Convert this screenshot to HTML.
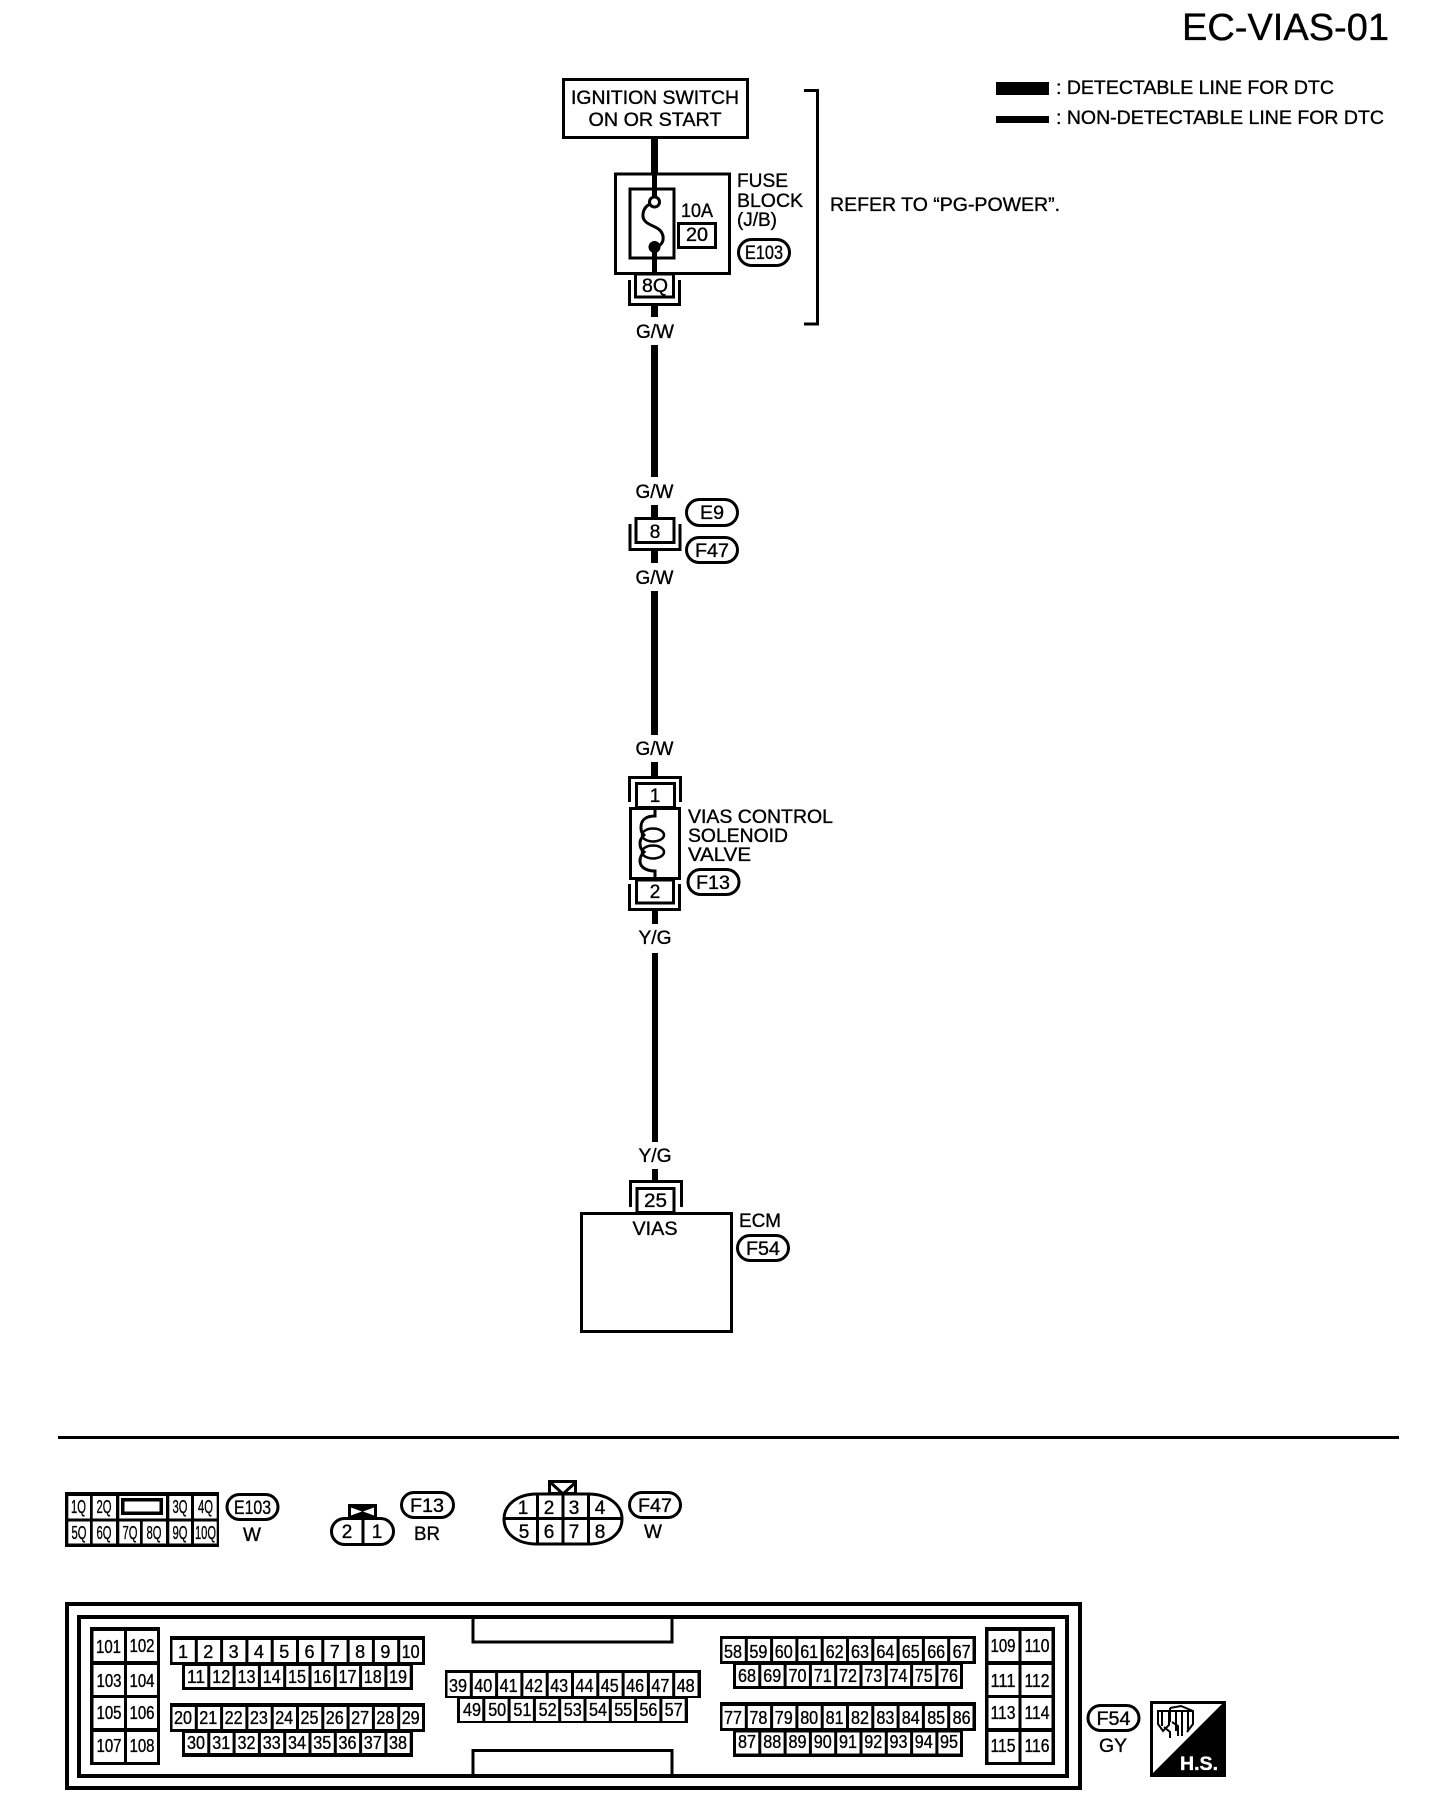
<!DOCTYPE html>
<html><head><meta charset="utf-8"><title>EC-VIAS-01</title>
<style>
html,body{margin:0;padding:0;background:#fff}
svg{display:block}
text{font-family:"Liberation Sans",Arial,sans-serif;fill:#000;font-size:19px;stroke:#000;stroke-width:.35px}
.m{text-anchor:middle}
.c text,text.c{font-size:18px;text-anchor:middle}
.n{fill:none;stroke:#000;stroke-width:3}
.p{fill:#fff;stroke:#000;stroke-width:3}
</style></head><body>
<svg width="1440" height="1804" viewBox="0 0 1440 1804" xmlns="http://www.w3.org/2000/svg">
<rect width="1440" height="1804" fill="#fff"/>
<text x="1182" y="40" style="font-size:38px" textLength="207" lengthAdjust="spacingAndGlyphs">EC-VIAS-01</text>
<rect x="996" y="82" width="53" height="13"/><rect x="996" y="116" width="53" height="7"/>
<text x="1056" y="94" textLength="278" lengthAdjust="spacingAndGlyphs">: DETECTABLE LINE FOR DTC</text>
<text x="1056" y="124" textLength="328" lengthAdjust="spacingAndGlyphs">: NON-DETECTABLE LINE FOR DTC</text>

<!-- wires -->
<rect x="651" y="138" width="7" height="35"/>
<rect x="652" y="173" width="5" height="24"/>
<rect x="652" y="253" width="5" height="21"/>
<rect x="651" y="306" width="7" height="11"/>
<rect x="651" y="345" width="7" height="132"/>
<rect x="651" y="505" width="7" height="15"/>
<rect x="651" y="551" width="7" height="12"/>
<rect x="651" y="591" width="7" height="144"/>
<rect x="651" y="762" width="7" height="15"/>
<rect x="652" y="910" width="6" height="14"/>
<rect x="652" y="953" width="6" height="189"/>
<rect x="652" y="1169" width="6" height="12"/>

<!-- ignition -->
<rect class="p" x="563.5" y="79.5" width="184" height="58"/>
<text class="m" x="655" y="104" textLength="168" lengthAdjust="spacingAndGlyphs">IGNITION SWITCH</text>
<text class="m" x="655" y="126" textLength="133" lengthAdjust="spacingAndGlyphs">ON OR START</text>

<!-- fuse block -->
<rect class="n" x="615.5" y="174" width="114" height="99.5"/>
<rect class="n" x="630" y="189" width="44" height="69"/>
<rect x="652" y="173" width="5" height="24"/>
<rect x="652" y="250" width="5" height="24"/>
<path class="n" d="M650 204C642 208 641 218 646 222C652 227 661 227 663 236C664 243 660 245 658 247"/>
<circle cx="654.5" cy="202" r="5" fill="#fff" stroke="#000" stroke-width="3"/>
<circle cx="654.5" cy="247" r="6"/>
<text class="m" x="697" y="217" textLength="32" lengthAdjust="spacingAndGlyphs">10A</text>
<rect class="n" x="678.5" y="223.5" width="37" height="24"/>
<text class="m" x="697" y="241" textLength="22" lengthAdjust="spacingAndGlyphs">20</text>
<text x="737" y="187" textLength="51" lengthAdjust="spacingAndGlyphs">FUSE</text>
<text x="737" y="207" textLength="66" lengthAdjust="spacingAndGlyphs">BLOCK</text>
<text x="737" y="226" textLength="40" lengthAdjust="spacingAndGlyphs">(J/B)</text>
<rect class="p" x="738.5" y="239.5" width="51" height="26" rx="13"/>
<text class="m" x="764" y="259" textLength="38" lengthAdjust="spacingAndGlyphs">E103</text>
<path class="n" d="M804 90.5H817.5V324H804"/>
<text x="830" y="211" textLength="230" lengthAdjust="spacingAndGlyphs">REFER TO “PG-POWER”.</text>
<rect class="n" x="635.5" y="274" width="38" height="23"/>
<text class="m" x="655" y="292" textLength="26" lengthAdjust="spacingAndGlyphs">8Q</text>
<path class="n" d="M629.5 280V304.5H679.5V280"/>
<text class="m" x="655" y="338" textLength="38" lengthAdjust="spacingAndGlyphs">G/W</text>

<!-- E9 F47 -->
<text class="m" x="654.5" y="498" textLength="38" lengthAdjust="spacingAndGlyphs">G/W</text>
<rect class="p" x="636" y="518.5" width="38" height="24"/>
<text class="m" x="655" y="538">8</text>
<path class="n" d="M630 524V549.5H680V524"/>
<rect class="p" x="686.5" y="499.5" width="51" height="26" rx="13"/>
<text class="m" x="712" y="519" textLength="24" lengthAdjust="spacingAndGlyphs">E9</text>
<rect class="p" x="686.5" y="537.5" width="51" height="25" rx="12.5"/>
<text class="m" x="712" y="557" textLength="34" lengthAdjust="spacingAndGlyphs">F47</text>
<text class="m" x="654.5" y="584" textLength="38" lengthAdjust="spacingAndGlyphs">G/W</text>
<text class="m" x="654.5" y="755" textLength="38" lengthAdjust="spacingAndGlyphs">G/W</text>

<!-- solenoid -->
<path class="n" d="M629.5 802V777.5H680.5V802"/>
<rect class="p" x="636.5" y="783.5" width="38" height="24"/>
<text class="m" x="655" y="802">1</text>
<rect x="630.5" y="808.5" width="49" height="70" fill="#fff" stroke="#000" stroke-width="3"/>
<path d="M655 810V816C646 816 641 820 641 827C641 832 642 833 644 835C641 838 640 840 640 843C640 847 641 850 644 852C641 855 640 858 640 861C640 867 646 871 655 871V878" fill="none" stroke="#000" stroke-width="3"/>
<ellipse cx="653" cy="835" rx="11" ry="6.5" fill="none" stroke="#000" stroke-width="2.5"/>
<ellipse cx="653" cy="852" rx="11" ry="6.5" fill="none" stroke="#000" stroke-width="2.5"/>
<rect class="p" x="636.5" y="880" width="37" height="23"/>
<text class="m" x="655" y="898">2</text>
<path class="n" d="M629.5 884V909.5H679.5V884"/>
<text x="688" y="823" textLength="145" lengthAdjust="spacingAndGlyphs">VIAS CONTROL</text>
<text x="688" y="842" textLength="100" lengthAdjust="spacingAndGlyphs">SOLENOID</text>
<text x="688" y="861" textLength="63" lengthAdjust="spacingAndGlyphs">VALVE</text>
<rect class="p" x="688" y="869.5" width="51" height="25" rx="12.5"/>
<text class="m" x="713" y="889" textLength="34" lengthAdjust="spacingAndGlyphs">F13</text>
<text class="m" x="655" y="944" textLength="33" lengthAdjust="spacingAndGlyphs">Y/G</text>
<text class="m" x="655" y="1162" textLength="33" lengthAdjust="spacingAndGlyphs">Y/G</text>

<!-- ECM -->
<path class="n" d="M630.5 1207V1181.5H681.5V1207"/>
<rect class="p" x="637" y="1188.5" width="37" height="24"/>
<text class="m" x="655.5" y="1207" textLength="23" lengthAdjust="spacingAndGlyphs">25</text>
<rect class="n" x="581.5" y="1213.5" width="150" height="118"/>
<text class="m" x="655" y="1235" textLength="45" lengthAdjust="spacingAndGlyphs">VIAS</text>
<text x="739" y="1227" textLength="42" lengthAdjust="spacingAndGlyphs">ECM</text>
<rect class="p" x="737.5" y="1235.5" width="51" height="25" rx="12.5"/>
<text class="m" x="763" y="1255" textLength="34" lengthAdjust="spacingAndGlyphs">F54</text>

<rect x="58" y="1436" width="1341" height="3"/>

<!-- E103 connector -->
<rect x="65" y="1492" width="154" height="55"/>
<g fill="#fff">
<rect x="68.3" y="1496" width="21.7" height="22.5"/><rect x="92.7" y="1496" width="23.3" height="22.5"/><rect x="119.3" y="1496" width="46.7" height="22.5"/><rect x="169.3" y="1496" width="21.7" height="22.5"/><rect x="194" y="1496" width="22.7" height="22.5"/>
<rect x="68.3" y="1521.5" width="21.7" height="22"/><rect x="92.7" y="1521.5" width="23.3" height="22"/><rect x="119.3" y="1521.5" width="20.7" height="22"/><rect x="142.7" y="1521.5" width="23.3" height="22"/><rect x="169.3" y="1521.5" width="21.7" height="22"/><rect x="194" y="1521.5" width="22.7" height="22"/>
</g>
<rect x="121" y="1498" width="42" height="17"/><rect x="124.5" y="1501.5" width="35" height="10" fill="#fff"/>
<g class="c">
<text x="78.5" y="1513" textLength="15" lengthAdjust="spacingAndGlyphs">1Q</text><text x="104" y="1513" textLength="15" lengthAdjust="spacingAndGlyphs">2Q</text><text x="180" y="1513" textLength="15" lengthAdjust="spacingAndGlyphs">3Q</text><text x="205.5" y="1513" textLength="15" lengthAdjust="spacingAndGlyphs">4Q</text>
<text x="79" y="1539" textLength="15" lengthAdjust="spacingAndGlyphs">5Q</text><text x="104" y="1539" textLength="15" lengthAdjust="spacingAndGlyphs">6Q</text><text x="130" y="1539" textLength="15" lengthAdjust="spacingAndGlyphs">7Q</text><text x="154" y="1539" textLength="15" lengthAdjust="spacingAndGlyphs">8Q</text><text x="180" y="1539" textLength="15" lengthAdjust="spacingAndGlyphs">9Q</text><text x="205.5" y="1539" textLength="21" lengthAdjust="spacingAndGlyphs">10Q</text>
</g>
<rect class="p" x="227" y="1494.5" width="51" height="25" rx="12.5"/>
<text class="m" x="252.5" y="1514" textLength="37" lengthAdjust="spacingAndGlyphs">E103</text>
<text class="m" x="252" y="1541">W</text>

<!-- F13 connector -->
<rect x="348" y="1504" width="29" height="14"/>
<path fill="#fff" d="M351 1507.5L362 1511.5L351 1515.5ZM374 1507.5L363 1511.5L374 1515.5Z"/>
<rect class="p" x="331.5" y="1518.5" width="62" height="26" rx="13"/>
<rect x="361.5" y="1518" width="3" height="26"/>
<text class="m" x="347" y="1538">2</text><text class="m" x="377" y="1538">1</text>
<rect class="p" x="401.5" y="1492.5" width="52" height="25" rx="12.5"/>
<text class="m" x="427" y="1512" textLength="34" lengthAdjust="spacingAndGlyphs">F13</text>
<text class="m" x="427" y="1540" textLength="26" lengthAdjust="spacingAndGlyphs">BR</text>

<!-- F47 connector -->
<rect class="p" x="549.5" y="1481.5" width="26" height="12"/>
<path class="n" d="M550 1482L563 1494L576 1482"/>
<path class="p" d="M537 1494H588C610 1494 622 1506 622 1519C622 1533 610 1544 588 1544H537C516 1544 504 1533 504 1519C504 1506 516 1494 537 1494Z"/>
<path class="n" d="M504 1518.5H622M537.5 1494V1544M563 1494V1544M588.5 1494V1544"/>
<text class="m" x="523" y="1514">1</text><text class="m" x="549" y="1514">2</text><text class="m" x="574" y="1514">3</text><text class="m" x="600" y="1514">4</text>
<text class="m" x="524" y="1538">5</text><text class="m" x="549" y="1538">6</text><text class="m" x="574" y="1538">7</text><text class="m" x="600" y="1538">8</text>
<rect class="p" x="629.5" y="1492.5" width="51" height="25" rx="12.5"/>
<text class="m" x="655" y="1512" textLength="34" lengthAdjust="spacingAndGlyphs">F47</text>
<text class="m" x="653" y="1538">W</text>

<!-- ECM connector -->
<rect x="67" y="1604" width="1013" height="184" fill="none" stroke="#000" stroke-width="4"/>
<rect x="79" y="1617" width="988" height="159" fill="none" stroke="#000" stroke-width="4"/>
<path class="n" d="M473 1618V1642H672V1618"/>
<path class="n" d="M473 1775V1750.5H672V1775"/>

<!-- side blocks -->
<rect x="90" y="1627" width="70" height="138"/>
<rect x="985" y="1627" width="70" height="138"/>
<g fill="#fff">
<rect x="93.5" y="1631" width="30.5" height="30"/><rect x="127" y="1631" width="30" height="30"/>
<rect x="93.5" y="1665" width="30.5" height="30"/><rect x="127" y="1665" width="30" height="30"/>
<rect x="93.5" y="1698" width="30.5" height="30"/><rect x="127" y="1698" width="30" height="30"/>
<rect x="93.5" y="1732" width="30.5" height="30"/><rect x="127" y="1732" width="30" height="30"/>
<rect x="988.5" y="1631" width="30" height="30"/><rect x="1021.5" y="1631" width="30" height="30"/>
<rect x="988.5" y="1665" width="30" height="30"/><rect x="1021.5" y="1665" width="30" height="30"/>
<rect x="988.5" y="1698" width="30" height="30"/><rect x="1021.5" y="1698" width="30" height="30"/>
<rect x="988.5" y="1732" width="30" height="30"/><rect x="1021.5" y="1732" width="30" height="30"/>
</g>
<g class="c">
<text x="108.5" y="1653" textLength="25" lengthAdjust="spacingAndGlyphs">101</text><text x="142" y="1652" textLength="25" lengthAdjust="spacingAndGlyphs">102</text>
<text x="109" y="1687" textLength="25" lengthAdjust="spacingAndGlyphs">103</text><text x="142" y="1687" textLength="25" lengthAdjust="spacingAndGlyphs">104</text>
<text x="109" y="1719" textLength="25" lengthAdjust="spacingAndGlyphs">105</text><text x="142" y="1719" textLength="25" lengthAdjust="spacingAndGlyphs">106</text>
<text x="109" y="1752" textLength="25" lengthAdjust="spacingAndGlyphs">107</text><text x="142" y="1752" textLength="25" lengthAdjust="spacingAndGlyphs">108</text>
<text x="1003" y="1652" textLength="25" lengthAdjust="spacingAndGlyphs">109</text><text x="1037" y="1652" textLength="25" lengthAdjust="spacingAndGlyphs">110</text>
<text x="1003" y="1687" textLength="25" lengthAdjust="spacingAndGlyphs">111</text><text x="1037" y="1687" textLength="25" lengthAdjust="spacingAndGlyphs">112</text>
<text x="1003" y="1719" textLength="25" lengthAdjust="spacingAndGlyphs">113</text><text x="1037" y="1719" textLength="25" lengthAdjust="spacingAndGlyphs">114</text>
<text x="1003" y="1752" textLength="25" lengthAdjust="spacingAndGlyphs">115</text><text x="1037" y="1752" textLength="25" lengthAdjust="spacingAndGlyphs">116</text>
</g>

<!-- pin block backgrounds -->
<rect x="170" y="1636" width="255" height="29"/><rect x="182" y="1664" width="231" height="26"/>
<rect x="170" y="1703" width="255" height="29"/><rect x="182" y="1731" width="231" height="26"/>
<rect x="445" y="1670" width="256" height="28"/><rect x="457" y="1697" width="231" height="26"/>
<rect x="720" y="1636" width="256" height="28"/><rect x="733" y="1663" width="230" height="26"/>
<rect x="720" y="1702" width="256" height="29"/><rect x="733" y="1730" width="230" height="27"/>
<g fill="none" stroke="#fff">
<path stroke-width="22" stroke-dasharray="22.3 3" d="M172.5 1651H422"/>
<path stroke-width="21" stroke-dasharray="22.3 3" d="M185 1676.5H410"/>
<path stroke-width="22" stroke-dasharray="22.3 3" d="M172.5 1718H422"/>
<path stroke-width="20" stroke-dasharray="22.3 3" d="M185 1743H410"/>
<path stroke-width="23" stroke-dasharray="22.3 3" d="M447.5 1684.5H698"/>
<path stroke-width="22" stroke-dasharray="22.3 3" d="M460 1710H685"/>
<path stroke-width="22" stroke-dasharray="22.3 3" d="M722.5 1650H973"/>
<path stroke-width="21" stroke-dasharray="22.3 3" d="M736 1675.5H960"/>
<path stroke-width="22" stroke-dasharray="22.3 3" d="M722.5 1717H973"/>
<path stroke-width="21" stroke-dasharray="22.3 3" d="M736 1743H960"/>
</g>
<g class="c">
<text x="183" y="1658">1</text><text x="208.3" y="1658">2</text><text x="233.6" y="1658">3</text><text x="258.9" y="1658">4</text><text x="284.2" y="1658">5</text><text x="309.5" y="1658">6</text><text x="334.8" y="1658">7</text><text x="360.1" y="1658">8</text><text x="385.4" y="1658">9</text><text x="410.7" y="1658" textLength="18" lengthAdjust="spacingAndGlyphs">10</text>
<text x="196" y="1683" textLength="18" lengthAdjust="spacingAndGlyphs">11</text><text x="221.3" y="1683" textLength="18" lengthAdjust="spacingAndGlyphs">12</text><text x="246.5" y="1683" textLength="18" lengthAdjust="spacingAndGlyphs">13</text><text x="271.8" y="1683" textLength="18" lengthAdjust="spacingAndGlyphs">14</text><text x="297" y="1683" textLength="18" lengthAdjust="spacingAndGlyphs">15</text><text x="322.3" y="1683" textLength="18" lengthAdjust="spacingAndGlyphs">16</text><text x="347.5" y="1683" textLength="18" lengthAdjust="spacingAndGlyphs">17</text><text x="372.8" y="1683" textLength="18" lengthAdjust="spacingAndGlyphs">18</text><text x="398" y="1683" textLength="18" lengthAdjust="spacingAndGlyphs">19</text>
<text x="183" y="1724" textLength="18" lengthAdjust="spacingAndGlyphs">20</text><text x="208.3" y="1724" textLength="18" lengthAdjust="spacingAndGlyphs">21</text><text x="233.6" y="1724" textLength="18" lengthAdjust="spacingAndGlyphs">22</text><text x="258.9" y="1724" textLength="18" lengthAdjust="spacingAndGlyphs">23</text><text x="284.2" y="1724" textLength="18" lengthAdjust="spacingAndGlyphs">24</text><text x="309.5" y="1724" textLength="18" lengthAdjust="spacingAndGlyphs">25</text><text x="334.8" y="1724" textLength="18" lengthAdjust="spacingAndGlyphs">26</text><text x="360.1" y="1724" textLength="18" lengthAdjust="spacingAndGlyphs">27</text><text x="385.4" y="1724" textLength="18" lengthAdjust="spacingAndGlyphs">28</text><text x="410.7" y="1724" textLength="18" lengthAdjust="spacingAndGlyphs">29</text>
<text x="196" y="1749" textLength="18" lengthAdjust="spacingAndGlyphs">30</text><text x="221.3" y="1749" textLength="18" lengthAdjust="spacingAndGlyphs">31</text><text x="246.5" y="1749" textLength="18" lengthAdjust="spacingAndGlyphs">32</text><text x="271.8" y="1749" textLength="18" lengthAdjust="spacingAndGlyphs">33</text><text x="297" y="1749" textLength="18" lengthAdjust="spacingAndGlyphs">34</text><text x="322.3" y="1749" textLength="18" lengthAdjust="spacingAndGlyphs">35</text><text x="347.5" y="1749" textLength="18" lengthAdjust="spacingAndGlyphs">36</text><text x="372.8" y="1749" textLength="18" lengthAdjust="spacingAndGlyphs">37</text><text x="398" y="1749" textLength="18" lengthAdjust="spacingAndGlyphs">38</text>
<text x="458" y="1692" textLength="18" lengthAdjust="spacingAndGlyphs">39</text><text x="483.3" y="1692" textLength="18" lengthAdjust="spacingAndGlyphs">40</text><text x="508.6" y="1692" textLength="18" lengthAdjust="spacingAndGlyphs">41</text><text x="533.9" y="1692" textLength="18" lengthAdjust="spacingAndGlyphs">42</text><text x="559.2" y="1692" textLength="18" lengthAdjust="spacingAndGlyphs">43</text><text x="584.5" y="1692" textLength="18" lengthAdjust="spacingAndGlyphs">44</text><text x="609.8" y="1692" textLength="18" lengthAdjust="spacingAndGlyphs">45</text><text x="635.1" y="1692" textLength="18" lengthAdjust="spacingAndGlyphs">46</text><text x="660.4" y="1692" textLength="18" lengthAdjust="spacingAndGlyphs">47</text><text x="685.7" y="1692" textLength="18" lengthAdjust="spacingAndGlyphs">48</text>
<text x="472" y="1716" textLength="18" lengthAdjust="spacingAndGlyphs">49</text><text x="497.2" y="1716" textLength="18" lengthAdjust="spacingAndGlyphs">50</text><text x="522.4" y="1716" textLength="18" lengthAdjust="spacingAndGlyphs">51</text><text x="547.6" y="1716" textLength="18" lengthAdjust="spacingAndGlyphs">52</text><text x="572.8" y="1716" textLength="18" lengthAdjust="spacingAndGlyphs">53</text><text x="598" y="1716" textLength="18" lengthAdjust="spacingAndGlyphs">54</text><text x="623.2" y="1716" textLength="18" lengthAdjust="spacingAndGlyphs">55</text><text x="648.4" y="1716" textLength="18" lengthAdjust="spacingAndGlyphs">56</text><text x="673.6" y="1716" textLength="18" lengthAdjust="spacingAndGlyphs">57</text>
<text x="733" y="1658" textLength="18" lengthAdjust="spacingAndGlyphs">58</text><text x="758.4" y="1658" textLength="18" lengthAdjust="spacingAndGlyphs">59</text><text x="783.8" y="1658" textLength="18" lengthAdjust="spacingAndGlyphs">60</text><text x="809.2" y="1658" textLength="18" lengthAdjust="spacingAndGlyphs">61</text><text x="834.6" y="1658" textLength="18" lengthAdjust="spacingAndGlyphs">62</text><text x="860" y="1658" textLength="18" lengthAdjust="spacingAndGlyphs">63</text><text x="885.4" y="1658" textLength="18" lengthAdjust="spacingAndGlyphs">64</text><text x="910.8" y="1658" textLength="18" lengthAdjust="spacingAndGlyphs">65</text><text x="936.2" y="1658" textLength="18" lengthAdjust="spacingAndGlyphs">66</text><text x="961.6" y="1658" textLength="18" lengthAdjust="spacingAndGlyphs">67</text>
<text x="747" y="1682" textLength="18" lengthAdjust="spacingAndGlyphs">68</text><text x="772.3" y="1682" textLength="18" lengthAdjust="spacingAndGlyphs">69</text><text x="797.5" y="1682" textLength="18" lengthAdjust="spacingAndGlyphs">70</text><text x="822.8" y="1682" textLength="18" lengthAdjust="spacingAndGlyphs">71</text><text x="848" y="1682" textLength="18" lengthAdjust="spacingAndGlyphs">72</text><text x="873.3" y="1682" textLength="18" lengthAdjust="spacingAndGlyphs">73</text><text x="898.5" y="1682" textLength="18" lengthAdjust="spacingAndGlyphs">74</text><text x="923.8" y="1682" textLength="18" lengthAdjust="spacingAndGlyphs">75</text><text x="949" y="1682" textLength="18" lengthAdjust="spacingAndGlyphs">76</text>
<text x="733" y="1724" textLength="18" lengthAdjust="spacingAndGlyphs">77</text><text x="758.4" y="1724" textLength="18" lengthAdjust="spacingAndGlyphs">78</text><text x="783.8" y="1724" textLength="18" lengthAdjust="spacingAndGlyphs">79</text><text x="809.2" y="1724" textLength="18" lengthAdjust="spacingAndGlyphs">80</text><text x="834.6" y="1724" textLength="18" lengthAdjust="spacingAndGlyphs">81</text><text x="860" y="1724" textLength="18" lengthAdjust="spacingAndGlyphs">82</text><text x="885.4" y="1724" textLength="18" lengthAdjust="spacingAndGlyphs">83</text><text x="910.8" y="1724" textLength="18" lengthAdjust="spacingAndGlyphs">84</text><text x="936.2" y="1724" textLength="18" lengthAdjust="spacingAndGlyphs">85</text><text x="961.6" y="1724" textLength="18" lengthAdjust="spacingAndGlyphs">86</text>
<text x="747" y="1748" textLength="18" lengthAdjust="spacingAndGlyphs">87</text><text x="772.3" y="1748" textLength="18" lengthAdjust="spacingAndGlyphs">88</text><text x="797.5" y="1748" textLength="18" lengthAdjust="spacingAndGlyphs">89</text><text x="822.8" y="1748" textLength="18" lengthAdjust="spacingAndGlyphs">90</text><text x="848" y="1748" textLength="18" lengthAdjust="spacingAndGlyphs">91</text><text x="873.3" y="1748" textLength="18" lengthAdjust="spacingAndGlyphs">92</text><text x="898.5" y="1748" textLength="18" lengthAdjust="spacingAndGlyphs">93</text><text x="923.8" y="1748" textLength="18" lengthAdjust="spacingAndGlyphs">94</text><text x="949" y="1748" textLength="18" lengthAdjust="spacingAndGlyphs">95</text>
</g>

<!-- F54 label & H.S. -->
<rect class="p" x="1088" y="1705.5" width="51" height="25" rx="12.5"/>
<text class="m" x="1113.5" y="1725" textLength="34" lengthAdjust="spacingAndGlyphs">F54</text>
<text class="m" x="1113" y="1752" textLength="28" lengthAdjust="spacingAndGlyphs">GY</text>
<rect x="1150" y="1701" width="76" height="76"/>
<path fill="#fff" d="M1153 1704H1222L1153 1773Z"/>
<g fill="none" stroke="#000" stroke-width="2">
<path d="M1158 1711H1169V1725L1163 1731L1158 1724ZM1162 1711V1726"/>
<path d="M1170 1708L1181 1706L1193 1711V1724L1187 1732M1170 1708V1722M1176 1711V1731M1182 1711V1736M1188 1711V1730M1170 1711H1193"/>
<path d="M1164 1727L1170 1732V1738M1172 1722L1178 1726V1736"/>
</g>
<text class="m" x="1199" y="1770" font-weight="bold" style="fill:#fff;stroke:#fff;font-size:19px" textLength="38" lengthAdjust="spacingAndGlyphs">H.S.</text>
</svg>
</body></html>
